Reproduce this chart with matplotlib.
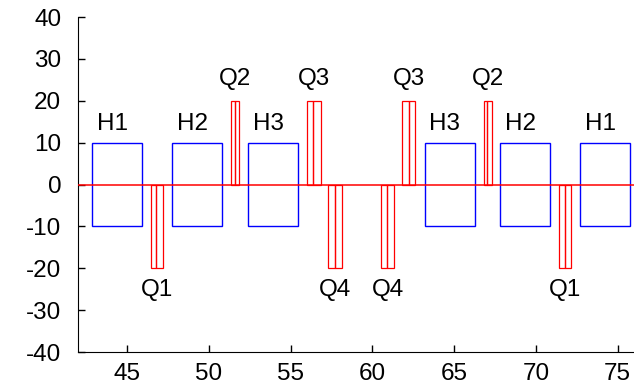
import matplotlib
matplotlib.use("Agg")
import matplotlib.pyplot as plt

# blue "H" boxes: left edge, right edge, label
h_left = [42.87, 47.75, 52.40, 63.20, 67.82, 72.70]
h_right = [45.92, 50.80, 55.45, 66.25, 70.87, 75.75]
h_names = ["H1", "H2", "H3", "H3", "H2", "H1"]
h_level = 10

# red "Q" pulses: each is a pair of narrow adjacent bars (left, middle, right)
q_left = [46.49, 51.33, 55.98, 57.30, 60.53, 61.84, 66.80, 71.44]
q_mid = [46.80, 51.62, 56.38, 57.70, 60.88, 62.22, 67.04, 71.77]
q_right = [47.20, 51.86, 56.83, 58.13, 61.35, 62.63, 67.29, 72.15]
q_height = [-20, 20, 20, -20, -20, 20, 20, -20]
q_names = ["Q1", "Q2", "Q3", "Q4", "Q4", "Q3", "Q2", "Q1"]

x_ticks = [45, 50, 55, 60, 65, 70, 75]
y_ticks = [-40, -30, -20, -10, 0, 10, 20, 30, 40]

plt.rcParams["font.family"] = ["Liberation Sans", "DejaVu Sans"]
plt.rcParams["font.size"] = 17.5
plt.rcParams["axes.unicode_minus"] = False

fig = plt.figure(figsize=(6.34, 3.87), dpi=100)
ax = fig.add_axes([0.123, 0.09, 0.877, 0.866])

blue = "#0000ff"
red = "#ff0000"

for l, r, name in zip(h_left, h_right, h_names):
    ax.bar(l, 2 * h_level, width=r - l, bottom=-h_level, align="edge",
           fill=False, edgecolor=blue, lw=1.0, zorder=2)
    ax.text((l + r) / 2 - 0.3, 13.1, name, ha="center", va="baseline")

for l, m, r, h, name in zip(q_left, q_mid, q_right, q_height, q_names):
    ax.bar(l, h, width=m - l, align="edge", fill=False, edgecolor=red,
           lw=0.9, zorder=3)
    ax.bar(m, h, width=r - m, align="edge", fill=False, edgecolor=red,
           lw=0.9, zorder=3)
    y = 23.8 if h > 0 else -26.5
    ax.text((l + r) / 2, y, name, ha="center", va="baseline")

ax.axhline(0, color=red, lw=1.1, zorder=4)

ax.set_xlim(42, 76)
ax.set_ylim(-40, 40)
ax.set_xticks(x_ticks)
ax.set_yticks(y_ticks)
ax.tick_params(direction="in", length=5, width=1, pad=8)
ax.tick_params(axis="y", pad=12)
ax.spines["top"].set_visible(False)
ax.spines["right"].set_visible(False)

fig.savefig("out.png", dpi=100)
